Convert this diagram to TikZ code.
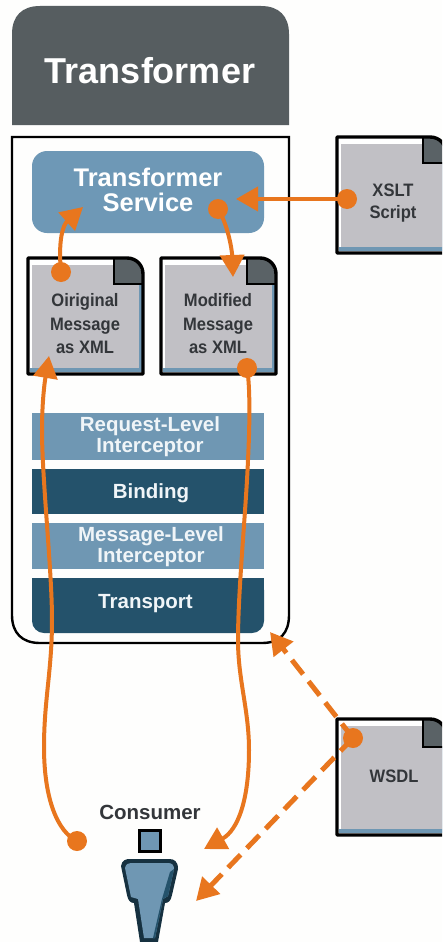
\documentclass[tikz,border=0pt]{standalone}
\usepackage{fontspec}
\setmainfont{Liberation Sans}
\usetikzlibrary{arrows.meta,shapes.geometric}
\definecolor{orangeline}{HTML}{E8761E}
\definecolor{docgray}{HTML}{C1C0C5}
\definecolor{folddark}{HTML}{5A6266}
\definecolor{headgray}{HTML}{565D60}
\definecolor{svcblue}{HTML}{6E98B6}
\definecolor{laydark}{HTML}{24526B}
\definecolor{laylight}{HTML}{6F97B3}
\definecolor{doctext}{HTML}{33363A}
\definecolor{paper}{HTML}{FEFEFD}
\tikzset{
  x=1pt,y=-1pt,
  fnt/.style={font=\bfseries\fontsize{#1}{#1}\selectfont},
  doctxt/.style={text=doctext,align=center,inner sep=0pt,xscale=.92,transform shape,font=\bfseries\fontsize{18}{23.5}\selectfont},
  laytxt/.style={text=white!90!svcblue,align=center,inner sep=0pt,font=\bfseries\fontsize{20.5}{21}\selectfont},
  link/.style={draw=orangeline,line width=4pt,-{Triangle[length=22pt,width=24pt]}},
  dashlink/.style={link,line width=5pt,dash pattern=on 18pt off 9pt},
  dot/.style={circle,fill=orangeline,minimum size=20pt,inner sep=0pt},
  tip/.style={inner sep=0pt,minimum size=0pt},
}
\newcommand{\docpage}[6]{% x0 y0 x1 y1 foldx foldy
  \fill[white] (#1,#2) -- (#5,#2) -- (#3,#6) -- (#3,#4) -- (#1,#4) -- cycle;
  \fill[docgray] (#1+4,#2+7) -- (#5,#2+7) -- (#5,#6) -- (#3-3,#6) -- (#3-3,#4-6) -- (#1+4,#4-6) -- cycle;
  \fill[laylight] (#1+2,#4-6) rectangle (#3-2,#4-2);
  \fill[laylight] (#3-4,#6) rectangle (#3-1,#4-2);
  \fill[folddark] (#5,#2) -- (#3-10,#2) .. controls (#3-5,#2+1) and (#3-1,#6-10) .. (#3,#6-7) -- (#3,#6) -- (#5,#6) -- cycle;
  \draw[black,line width=2.4pt] (#5,#2) -- (#5,#6) -- (#3,#6);
  \draw[black,line width=3.4pt,line join=round] (#3,#6) -- (#3,#4) -- (#1,#4) -- (#1,#2) -- (#3-16,#2) .. controls (#3-6,#2) and (#3,#2+8) .. (#3,#2+16) -- cycle;
}
\begin{document}
\begin{tikzpicture}
\useasboundingbox (0,0) rectangle (442,942);
\clip (0,0) rectangle (442,942);
\fill[paper] (0,0) rectangle (442,942);
% header
\fill[headgray]
  (12,125) -- (12,34) .. controls (12,16) and (22,6) .. (40,6) -- (261,6) .. controls (279,6) and (289,16) .. (289,34) -- (289,125) -- cycle;
\node[fnt=36,text=white,inner sep=0pt] (title) at (150,71) {Transformer};
% frame
\draw[black,line width=2.4pt] (12,137) -- (289,137) -- (289,615) .. controls (289,633) and (280,643) .. (262,643) -- (40,643) .. controls (22,643) and (12,633) .. (12,615) -- cycle;
% service
\node[fill=svcblue,rounded corners=15pt,minimum width=232pt,minimum height=82pt,inner sep=0pt] (service) at (148,192) {};
\node[text=white,align=center,inner sep=0pt,font=\bfseries\fontsize{25.5}{25}\selectfont] (servicetxt) at (148,190) {Transformer\\Service};
% layers
\node[fill=laylight,minimum width=232pt,minimum height=47pt,inner sep=0pt] (reqlayer) at (148,436.5) {};
\node[laytxt] (reqtxt) at (150,437) {Request-Level\\Interceptor};
\node[fill=laydark,minimum width=232pt,minimum height=45pt,inner sep=0pt] (bindlayer) at (148,491.5) {};
\node[laytxt] (bindtxt) at (151,493) {Binding};
\node[fill=laylight,minimum width=232pt,minimum height=46pt,inner sep=0pt] (msglayer) at (148,546) {};
\node[laytxt] (msgtxt) at (151,546.5) {Message-Level\\Interceptor};
\fill[laydark,rounded corners=12pt] (32,578) -- (264,578) -- (264,633) -- (32,633) -- cycle;
\fill[laydark] (32,578) rectangle (264,600);
\node[laytxt] (transtxt) at (145.5,603.5) {Transport};
% documents
\docpage{28}{258}{143}{374}{114}{284}
\docpage{161}{258}{276}{374}{247}{284}
\docpage{337}{137}{446}{253}{423}{163}
\docpage{337}{719}{446}{835}{423}{747}
\node[doctxt] (orig) at (85,324) {Oiriginal\\Message\\as XML};
\node[doctxt] (modi) at (218,324) {Modified\\Message\\as XML};
\node[doctxt] (xslt) at (393,203) {XSLT\\[-2pt]Script};
\node[doctxt] (wsdl) at (394,776) {WSDL};
% consumer
\node[fnt=20.5,text=doctext,inner sep=0pt] (consumer) at (150,812) {Consumer};
\node[draw=black,line width=3pt,fill=laylight,minimum size=21pt,inner sep=0pt] (head) at (149.5,841) {};
\fill[laydark!60!black] (121,866) .. controls (122,860) and (126,859) .. (130,859) -- (169,859) .. controls (174,859) and (178,861) .. (178,869) -- (172,895) .. controls (171,901) and (168,903) .. (165,903) -- (158,942) -- (140,942) -- (134,903) .. controls (130,903) and (128,900) .. (127,895) -- cycle;
\fill[laylight] (125,868) .. controls (126,864) and (128,863) .. (131,863) -- (168,863) .. controls (172,863) and (174,865) .. (174,869) -- (168,896) -- (163,899) -- (155,938) -- (144,938) -- (138,899) -- (131,897) -- cycle;
\fill[laydark] (168,896) -- (174,869) -- (170,872) -- (162,899) -- (153,938) -- (155,938) -- (163,899) -- cycle;
% dots
\node[dot] (d1) at (61,272) {};
\node[dot] (d2) at (218,209) {};
\node[dot] (d3) at (347,199) {};
\node[dot] (d4) at (247,368) {};
\node[dot] (d5) at (77,841) {};
\node[dot] (d6) at (353,738) {};
\coordinate (t1) at (83,207);
\coordinate (t2) at (233,277);
\coordinate (t3) at (236,199);
\coordinate (t4) at (49,356);
\coordinate (t5) at (204,849);
\coordinate (t6) at (270,632);
\coordinate (t7) at (196,901);
% connectors
\draw[link] (d1.center) .. controls (58,240) and (63,225) .. (t1);
\draw[link] (d2.center) .. controls (228,225) and (232,250) .. (t2);
\draw[link] (d3.center) -- (t3);
\draw[link] (d5.center) .. controls (58,832) and (44,800) .. (44,747) .. controls (44,700) and (52,670) .. (52,620) .. controls (52,570) and (42,480) .. (42,430) .. controls (42,400) and (45,380) .. (t4);
\draw[link] (d4.center) .. controls (250,385) and (250,420) .. (248,460) .. controls (246,510) and (238,590) .. (238,640) .. controls (238,680) and (249,710) .. (249,750) .. controls (249,800) and (238,830) .. (t5);
\draw[dashlink] (d6.center) -- (t6);
\draw[dashlink] (d6.center) -- (t7);
\end{tikzpicture}
\end{document}
